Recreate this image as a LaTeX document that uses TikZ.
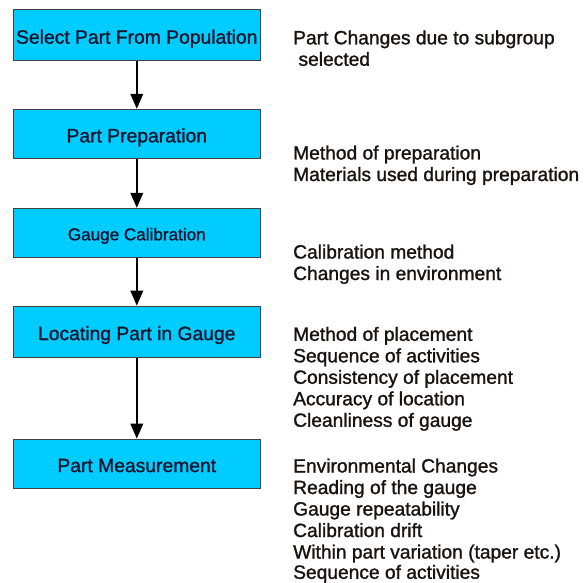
\documentclass[tikz,border=0pt]{standalone}
\usepackage{fontspec}
\setmainfont{Liberation Sans}
\usetikzlibrary{arrows.meta}
\definecolor{boxfill}{HTML}{00CCFF}
\definecolor{boxline}{HTML}{404040}
\definecolor{boxtext}{HTML}{15152E}
\definecolor{sidetext}{HTML}{1A1212}
\newfontfamily\heavyfont{Liberation Sans}[FakeBold=1.3]
\begin{document}
\begin{tikzpicture}[x=1pt,y=-1pt,
  stagebox/.style={draw=boxline,line width=0.9pt,fill=boxfill,minimum width=247.5pt,
    inner sep=0pt,text=boxtext,text height=17pt,text depth=0pt,font=\heavyfont\fontsize{19.3}{22}\selectfont},
  flowarrow/.style={line width=2pt,-{Triangle[length=15pt,width=12.5pt]}},
  sideline/.style={anchor=base west,inner sep=0pt,text=sidetext,font=\heavyfont\fontsize{19.2}{21.5}\selectfont}]
\useasboundingbox (0,0) rectangle (584,583);
\node[stagebox,minimum height=51pt] (b1) at (136.8,35.2) {Select Part From Population};
\node[stagebox,minimum height=49pt] (b2) at (136.8,133.8) {Part Preparation};
\node[stagebox,minimum height=49pt,text height=15pt,font=\heavyfont\fontsize{17.1}{20}\selectfont] (b3) at (136.8,232.8) {Gauge Calibration};
\node[stagebox,minimum height=51pt] (b4) at (136.8,331.6) {Locating Part in Gauge};
\node[stagebox,minimum height=49pt] (b5) at (136.8,463.6) {Part Measurement};
\draw[flowarrow] (b1.south) -- (b2.north);
\draw[flowarrow] (b2.south) -- (b3.north);
\draw[flowarrow] (b3.south) -- (b4.north);
\draw[flowarrow] (b4.south) -- (b5.north);
\node[sideline] (g1a) at (293,44.3) {Part Changes due to subgroup};
\node[sideline] (g1b) at (293,65.8) {\ selected};
\node[sideline] (g2a) at (293,159.5) {Method of preparation};
\node[sideline] (g2b) at (293,181) {Materials used during preparation};
\node[sideline] (g3a) at (293,258.5) {Calibration method};
\node[sideline] (g3b) at (293,280) {Changes in environment};
\node[sideline] (g4a) at (293,340.8) {Method of placement};
\node[sideline] (g4b) at (293,362.3) {Sequence of activities};
\node[sideline] (g4c) at (293,383.8) {Consistency of placement};
\node[sideline] (g4d) at (293,405.3) {Accuracy of location};
\node[sideline] (g4e) at (293,426.8) {Cleanliness of gauge};
\node[sideline] (g5a) at (293,472.5) {Environmental Changes};
\node[sideline] (g5b) at (293,494) {Reading of the gauge};
\node[sideline] (g5c) at (293,515.5) {Gauge repeatability};
\node[sideline] (g5d) at (293,537) {Calibration drift};
\node[sideline] (g5e) at (293,558.5) {Within part variation (taper etc.)};
\node[sideline] (g5f) at (293,578.8) {Sequence of activities};
\end{tikzpicture}
\end{document}
